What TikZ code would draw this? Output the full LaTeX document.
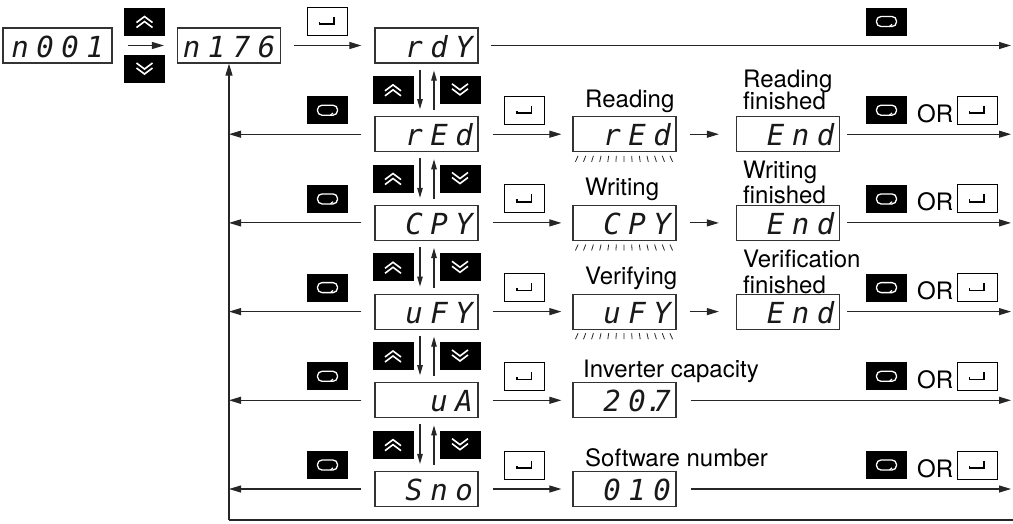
\documentclass[tikz,border=0pt]{standalone}
\usepackage{fontspec}
\setmainfont{TeX Gyre Heros}
\newfontfamily\segfont{DejaVu Sans Mono}
\usetikzlibrary{arrows.meta}
\newcommand\segcells[4]{\makebox[25pt]{#1}\makebox[25pt]{#2}\makebox[25pt]{#3}\makebox[25pt]{#4}}
\begin{document}
\begin{tikzpicture}[x=1pt,y=-1pt,
  line/.style={line width=1.1pt, draw=black!85},
  harr/.style={line, -{Triangle[length=12pt,width=7pt]}},
  varr/.style={line, -{Triangle[length=10pt,width=5.5pt]}, shorten <=6pt, shorten >=7pt},
  disp/.style={draw=black!80, line width=1.2pt, fill=white, minimum width=103pt,
    minimum height=35pt, inner sep=0pt, text height=23pt, text depth=0pt, text=black!90,
    font=\segfont\itshape\fontsize{29}{29}\selectfont},
  upkey/.style={fill=black, minimum width=41pt, minimum height=28pt, inner sep=0pt,
    path picture={\draw[white, line width=1.6pt, shift={(path picture bounding box.center)}]
      (-8,1) -- (0,-5) -- (8,1) (-8,6) -- (0,0) -- (8,6);}},
  downkey/.style={fill=black, minimum width=41pt, minimum height=28pt, inner sep=0pt,
    path picture={\draw[white, line width=1.6pt, shift={(path picture bounding box.center)}]
      (-8,-6) -- (0,0) -- (8,-6) (-8,-1) -- (0,5) -- (8,-1);}},
  modekey/.style={fill=black, minimum width=41pt, minimum height=28pt, inner sep=0pt,
    path picture={\draw[white, line width=1.3pt, rounded corners=4.5pt, shift={(path picture bounding box.center)}]
      (-10,-5) rectangle (10,5); \draw[white, line width=1.2pt, shift={(path picture bounding box.center)}] (3,5) -- (5.5,2.8);}},
  enterkey/.style={draw=black, fill=white, line width=1pt, minimum width=40pt, minimum height=28pt, inner sep=0pt,
    path picture={\draw[line width=1.5pt, shift={(path picture bounding box.center)}]
      (7,-4.5) -- (7,3) -- (-7.5,3) -- (-7.5,0.5);}},
  lbl/.style={font=\fontsize{24}{27}\selectfont, inner sep=0pt, anchor=base west},
  flick/.style={line width=0.8pt, draw=black!85}
]
\useasboundingbox (0,0) rectangle (1013,523);

% first row
\node[disp, minimum width=109pt] (n001) at (57.5,45.5) {\segcells{n}{0}{0}{1}};
\node[disp] (n176) at (229,45.5) {\segcells{n}{1}{7}{6}};
\node[upkey] (upA) at (144.5,21.5) {};
\node[downkey] (dnA) at (144.5,69) {};
\node[enterkey] (me1) at (327,21) {};
\node[disp] (r1) at (426.5,45.5) {\segcells{}{r}{d}{Y}};
\node[modekey] (rm1) at (886.5,21.5) {};
\coordinate (R1) at (1011,45.5);

% selection column
\node[disp] (r2) at (426.5,134.2) {\segcells{}{r}{E}{d}};
\node[disp] (r3) at (426.5,222.9) {\segcells{}{C}{P}{Y}};
\node[disp] (r4) at (426.5,311.6) {\segcells{}{u}{F}{Y}};
\node[disp] (r5) at (426.5,400.3) {\segcells{}{}{u}{A}};
\node[disp] (r6) at (426.5,489) {\segcells{}{S}{n}{o}};

% second column
\node[disp] (s2) at (624.5,134.2) {\segcells{}{r}{E}{d}};
\node[disp] (s3) at (624.5,222.9) {\segcells{}{C}{P}{Y}};
\node[disp] (s4) at (624.5,311.6) {\segcells{}{u}{F}{Y}};
\node[disp] (s5) at (624.5,400.3) {\segcells{}{2}{0\rlap{.}}{7}};
\node[disp] (s6) at (624.5,489) {\segcells{}{0}{1}{0}};

% end column
\node[disp] (e2) at (788,134.2) {\segcells{}{E}{n}{d}};
\node[disp] (e3) at (788,222.9) {\segcells{}{E}{n}{d}};
\node[disp] (e4) at (788,311.6) {\segcells{}{E}{n}{d}};

% flicker marks
\foreach \s in {s2,s3,s4}{
  \draw[flick, shift={(\s.south west)}] foreach \i in {0,...,12} {(3+\i*8.1,9.5) -- ++({(6-\i)*0.45},-6)};
}

% keys per row
\foreach \k/\c in {2/134.2,3/222.9,4/311.6,5/400.3,6/489}{
  \node[modekey] (lm\k) at (327.5,\c-24) {};
  \node[enterkey] (me\k) at (524.5,\c-24) {};
  \node[modekey] (rm\k) at (886.5,\c-24) {};
  \node[lbl] (or\k) at (917,\c-12) {OR};
  \node[enterkey] (re\k) at (977,\c-24) {};
  \coordinate (L\k) at (229,\c);
  \coordinate (R\k) at (1011,\c);
}

% up/down keys between rows
\foreach \i/\y in {1/89.85,2/178.55,3/267.25,4/355.95,5/444.65}{
  \node[upkey] (up\i) at (393,\y) {};
  \node[downkey] (dn\i) at (460,\y) {};
}
\foreach \a/\b in {r1/r2,r2/r3,r3/r4,r4/r5,r5/r6}{
  \draw[varr] ([xshift=-6.5pt]\a.south) -- ([xshift=-6.5pt]\b.north);
  \draw[varr] ([xshift=7.5pt]\b.north) -- ([xshift=7.5pt]\a.south);
}

% labels
\node[lbl] (lb2) at (585,107.2) {Reading};
\node[lbl] (lb3) at (585,195.9) {Writing};
\node[lbl] (lb4) at (585,284.6) {Verifying};
\node[lbl] (lb5) at (583,377.3) {Inverter capacity};
\node[lbl] (lb6) at (585,466) {Software number};
\node[lbl] (le2a) at (743,87) {Reading};
\node[lbl] (le2b) at (743,109) {finished};
\node[lbl] (le3a) at (743,178) {Writing};
\node[lbl] (le3b) at (743,203) {finished};
\node[lbl] (le4a) at (743,267) {Verification};
\node[lbl] (le4b) at (743,293) {finished};

% connectors
\draw[harr, shorten <=15pt, shorten >=13pt] (n001) -- (n176);
\draw[harr, shorten <=13pt, shorten >=13pt] (n176) -- (r1);
\draw[harr, shorten <=12pt] (r1) -- (R1);
\foreach \k in {2,...,6}{
  \draw[harr, shorten <=13pt] (r\k) -- (L\k);
  \draw[harr, shorten <=14pt, shorten >=11pt] (r\k) -- (s\k);
}
\foreach \k in {2,3,4}{
  \draw[harr, shorten <=13pt, shorten >=17pt] (s\k) -- (e\k);
  \draw[harr, shorten <=7pt] (e\k) -- (R\k);
}
\foreach \k in {5,6}{
  \draw[harr, shorten <=14pt] (s\k) -- (R\k);
}
\coordinate (B) at (229,520);
\coordinate (BR) at (1013,520);
\draw[harr] (B) -- (n176.south);
\draw[line] (B) -- (BR);
\end{tikzpicture}
\end{document}
